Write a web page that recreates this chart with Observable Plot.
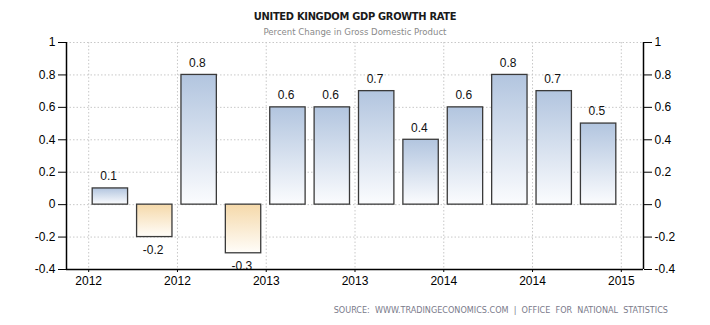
<!DOCTYPE html>
<html>
<head>
<meta charset="utf-8">
<script src="https://cdn.jsdelivr.net/npm/d3@7"></script>
<script src="https://cdn.jsdelivr.net/npm/@observablehq/plot@0.6"></script>
<style>
  html, body { margin: 0; padding: 0; background: #fff; }
  body { width: 710px; height: 325px; overflow: hidden; font-family: "DejaVu Sans Condensed", "DejaVu Sans", sans-serif; }
  #title { text-align: center; font-size: 11px; font-weight: bold; color: #1a1a1a; height: 20px; line-height: 20px; padding-top: 7px; letter-spacing: -0.3px; }
  #subtitle { text-align: center; font-size: 9.5px; color: #8a8a8a; height: 11px; line-height: 10px; }
  #caption { text-align: right; font-size: 9px; color: #7a7a8a; padding-right: 42px; white-space: pre; margin-top: 16px; }
  svg { display: block; }
</style>
</head>
<body>
<div id="title">UNITED KINGDOM GDP GROWTH RATE</div>
<div id="subtitle">Percent Change in Gross Domestic Product</div>
<div id="chart"></div>
<div id="caption">SOURCE:  WWW.TRADINGECONOMICS.COM  |  OFFICE  FOR  NATIONAL  STATISTICS</div>
<script>
const quarters = [0, 1, 2, 3, 4, 5, 6, 7, 8, 9, 10, 11];
const values = [0.1, -0.2, 0.8, -0.3, 0.6, 0.6, 0.7, 0.4, 0.6, 0.8, 0.7, 0.5];
const xTickPositions = [0, 2, 4, 6, 8, 10, 12];
const xTickLabels = ["2012", "2012", "2013", "2013", "2014", "2014", "2015"];
const yTicks = [-0.4, -0.2, 0, 0.2, 0.4, 0.6, 0.8, 1];

const data = quarters.map((q, i) => ({q, value: values[i]}));
const pos = data.filter(d => d.value >= 0);
const neg = data.filter(d => d.value < 0);
const fmt = d => String(+(+d).toFixed(1));
const grid = {stroke: "#c8c8c8", strokeOpacity: 1, strokeDasharray: "1.5,2"};
const font = "Liberation Sans, Arial, sans-serif";

const chart = Plot.plot({
  width: 710,
  height: 251,
  marginTop: 4,
  marginBottom: 20,
  marginLeft: 66,
  marginRight: 67,
  style: {fontFamily: font, fontSize: "11px", color: "#000", background: "#fff", overflow: "visible"},
  x: {domain: [-0.5, 12.5]},
  y: {domain: [-0.4, 1]},
  marks: [
    Plot.ruleY(yTicks, {y: d => d, ...grid}),
    Plot.ruleX(xTickPositions, {x: d => d, ...grid}),
    Plot.rectY(pos, {x1: "q", x2: d => d.q + 1, y1: 0, y2: "value", insetLeft: 4, insetRight: 5, fill: "url(#gpos)", stroke: "#3a3a3a", strokeWidth: 1.3}),
    Plot.rectY(neg, {x1: "q", x2: d => d.q + 1, y1: 0, y2: "value", insetLeft: 4, insetRight: 5, fill: "url(#gneg)", stroke: "#3a3a3a", strokeWidth: 1.3}),
    Plot.text(pos, {x: d => d.q + 0.45, y: "value", text: d => fmt(d.value), dy: -12, fill: "#111", fontSize: 12}),
    Plot.text(neg, {x: d => d.q + 0.45, y: "value", text: d => fmt(d.value), dy: 13, fill: "#111", fontSize: 12}),
    Plot.axisY(yTicks, {anchor: "left", tickSize: 8, tickPadding: 3, tickFormat: fmt, label: null, fontSize: 12}),
    Plot.axisY(yTicks, {anchor: "right", tickSize: 8, tickPadding: 3, tickFormat: fmt, label: null, fontSize: 12}),
    Plot.axisX(xTickPositions, {tickSize: 3, tickPadding: 4, tickFormat: (d, i) => xTickLabels[i], label: null, fontSize: 12}),
    Plot.ruleX([-0.5, 12.5], {x: d => d, y1: -0.4, y2: 1, stroke: "#000", strokeWidth: 1.5}),
    Plot.ruleY([-0.4], {y: d => d, x1: -0.5, x2: 12.5, stroke: "#000", strokeWidth: 1.5})
  ]
});

const svg = d3.select(chart);
const defs = svg.insert("defs", ":first-child");
const gp = defs.append("linearGradient").attr("id", "gpos").attr("x1", 0).attr("y1", 0).attr("x2", 0).attr("y2", 1);
gp.append("stop").attr("offset", "0%").attr("stop-color", "#b2c5df");
gp.append("stop").attr("offset", "100%").attr("stop-color", "#fbfcfe");
const gn = defs.append("linearGradient").attr("id", "gneg").attr("x1", 0).attr("y1", 0).attr("x2", 0).attr("y2", 1);
gn.append("stop").attr("offset", "0%").attr("stop-color", "#f5d9aa");
gn.append("stop").attr("offset", "100%").attr("stop-color", "#fffdf9");

document.getElementById("chart").appendChild(chart);
</script>
</body>
</html>
